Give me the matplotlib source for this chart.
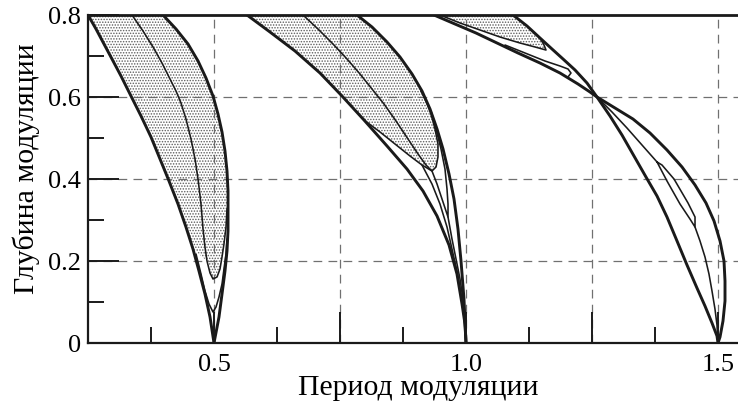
import matplotlib
matplotlib.use("Agg")
import matplotlib.pyplot as plt
import numpy as np
from matplotlib.ticker import FixedLocator, FixedFormatter

plt.rcParams['font.family'] = ['Liberation Serif', 'DejaVu Serif']
plt.rcParams['hatch.linewidth'] = 0.7

# ---------------- data (period, depth) ----------------
x_label = "Период модуляции"
y_label = "Глубина модуляции"
x_major = [0.25, 0.5, 0.75, 1.0, 1.25, 1.5]
x_major_labels = ["", "0.5", "", "1.0", "", "1.5"]
x_minor = [0.375, 0.625, 0.875, 1.125, 1.375]
y_major = [0.0, 0.2, 0.4, 0.6, 0.8]
y_major_labels = ["0", "0.2", "0.4", "0.6", "0.8"]
y_minor = [0.1, 0.3, 0.5, 0.7]

# tongue near 0.5
t1_left_x = [0.25, 0.2659, 0.2817, 0.2976, 0.3155, 0.3353, 0.3552, 0.3750, 0.3929, 0.4107,
             0.4286, 0.4444, 0.4583, 0.4702, 0.4821, 0.4921, 0.5]
t1_left_y = [0.8, 0.7659, 0.7293, 0.6927, 0.6512, 0.6024, 0.5537, 0.5024, 0.4488, 0.3951,
             0.3390, 0.2829, 0.2293, 0.1756, 0.1195, 0.0634, 0.0]
t1_right_x = [0.3988, 0.4246, 0.4484, 0.4683, 0.4841, 0.4980, 0.5079, 0.5159, 0.5218, 0.5258,
              0.5278, 0.5278, 0.5278, 0.5258, 0.5218, 0.5159, 0.5099, 0.5]
t1_right_y = [0.8, 0.7659, 0.7293, 0.6878, 0.6463, 0.6024, 0.5585, 0.5146, 0.4683, 0.4195,
              0.3707, 0.3220, 0.2732, 0.2244, 0.1756, 0.1195, 0.0634, 0.0]
t1_inner_x = [0.3373, 0.3591, 0.3790, 0.3968, 0.4127, 0.4246, 0.4345, 0.4444, 0.4544, 0.4623,
              0.4683, 0.4742, 0.4782, 0.4821, 0.4861, 0.4921, 0.4980, 0.5060, 0.5119, 0.5159,
              0.5198, 0.5238, 0.5258]
t1_inner_y = [0.8, 0.7610, 0.7220, 0.6829, 0.6439, 0.6146, 0.5854, 0.5463, 0.4976, 0.4488,
              0.4, 0.3390, 0.2780, 0.2341, 0.2, 0.1707, 0.1561, 0.1610, 0.1805, 0.2098,
              0.2415, 0.2829, 0.3268]
t1_mid_x = [0.4643, 0.4742, 0.4821, 0.4901, 0.4980, 0.5040, 0.5099, 0.5159, 0.5198, 0.5238, 0.5258]
t1_mid_y = [0.2171, 0.1683, 0.1268, 0.0951, 0.0756, 0.0878, 0.1122, 0.1439, 0.1805, 0.2171, 0.2537]

# tongue near 1.0
t2_left_x = [0.5655, 0.6111, 0.6607, 0.7103, 0.7540, 0.7976, 0.8433, 0.8829, 0.9147, 0.9425,
             0.9663, 0.9821, 0.9921, 0.9980, 1.0]
t2_left_y = [0.8, 0.7585, 0.7122, 0.6585, 0.6024, 0.5439, 0.4805, 0.4244, 0.3707, 0.3098,
             0.2390, 0.1683, 0.0951, 0.0463, 0.0]
t2_right_x = [0.7837, 0.8135, 0.8433, 0.8690, 0.8929, 0.9127, 0.9286, 0.9425, 0.9544, 0.9663,
              0.9762, 0.9841, 0.9901, 0.9960, 1.0]
t2_right_y = [0.8, 0.7707, 0.7341, 0.6976, 0.6561, 0.6146, 0.5707, 0.5220, 0.4732, 0.4122,
              0.3512, 0.2780, 0.2, 0.1073, 0.0]
t2_inner_x = [0.6766, 0.7063, 0.7361, 0.7639, 0.7897, 0.8135, 0.8373, 0.8611, 0.8849, 0.9048,
              0.9206, 0.9325, 0.9405, 0.9444, 0.9444, 0.9385, 0.9306, 0.9206, 0.9107]
t2_inner_y = [0.8, 0.7659, 0.7293, 0.6927, 0.6561, 0.6195, 0.5829, 0.5415, 0.4976, 0.4610,
              0.4341, 0.4195, 0.4293, 0.4537, 0.4854, 0.5220, 0.5585, 0.5902, 0.6146]
t2_mid_x = [0.7976, 0.8294, 0.8591, 0.8889, 0.9127, 0.9325, 0.9425, 0.9524, 0.9643, 0.9643,
            0.9623, 0.9583, 0.9504, 0.9405, 0.9306]
t2_mid_y = [0.5439, 0.5146, 0.4854, 0.4561, 0.4341, 0.4195, 0.3878, 0.3512, 0.3073, 0.3390,
            0.3756, 0.4244, 0.4732, 0.5220, 0.5659]
t2_low_a_x = [0.9643, 0.9722, 0.9802, 0.9881, 0.9940, 0.9980, 1.0]
t2_low_a_y = [0.3073, 0.2537, 0.2049, 0.1561, 0.1073, 0.0585, 0.0]
t2_low_b_x = [0.9127, 0.9325, 0.9484, 0.9623, 0.9722, 0.9821, 0.9901, 0.9960, 1.0]
t2_low_b_y = [0.4341, 0.3878, 0.3390, 0.2829, 0.2293, 0.1756, 0.1195, 0.0634, 0.0]

# tongue near 1.5 (branches cross near 1.26, 0.6)
t3_a_x = [0.9365, 0.9782, 1.0198, 1.0615, 1.1032, 1.1468, 1.1865, 1.2222, 1.2460, 1.2599,
          1.2956, 1.3313, 1.3651, 1.3988, 1.4286, 1.4544, 1.4762, 1.4921, 1.5040, 1.5119,
          1.5139, 1.5139, 1.5099, 1.5040, 1.5]
t3_a_y = [0.8, 0.7780, 0.7561, 0.7317, 0.7073, 0.6829, 0.6585, 0.6317, 0.6122, 0.6,
          0.5732, 0.5463, 0.5122, 0.4707, 0.4293, 0.3854, 0.3415, 0.2976, 0.2488, 0.2,
          0.1512, 0.1024, 0.0537, 0.0146, 0.0]
t3_b_x = [1.0933, 1.1210, 1.1468, 1.1706, 1.1925, 1.2163, 1.2401, 1.2599, 1.2857, 1.3095,
          1.3333, 1.3571, 1.3790, 1.3988, 1.4187, 1.4385, 1.4583, 1.4742, 1.4881, 1.4980, 1.5]
t3_b_y = [0.8, 0.7732, 0.7439, 0.7171, 0.6927, 0.6659, 0.6341, 0.6, 0.5537, 0.5073,
          0.4561, 0.4049, 0.3585, 0.3073, 0.2488, 0.1902, 0.1341, 0.0902, 0.0488, 0.0171, 0.0]
t3_mid_up_x = [1.2599, 1.2897, 1.3194, 1.3492, 1.3790]
t3_mid_up_y = [0.6, 0.5634, 0.5244, 0.4829, 0.4415]
t3_mid_low_x = [1.4544, 1.4643, 1.4742, 1.4821, 1.4881, 1.4940, 1.4980, 1.5]
t3_mid_low_y = [0.2829, 0.2488, 0.2098, 0.1683, 0.1268, 0.0829, 0.0439, 0.0]
t3_lens_x = [1.3790, 1.3988, 1.4246, 1.4444, 1.4544, 1.4544, 1.4405, 1.4127, 1.3889, 1.3790]
t3_lens_y = [0.4415, 0.3951, 0.3390, 0.3024, 0.2829, 0.3073, 0.3415, 0.4, 0.4341, 0.4415]
t3_lobe1_x = [0.9484, 0.9881, 1.0278, 1.0675, 1.1071, 1.1369, 1.1587, 1.1548, 1.1468]
t3_lobe1_y = [0.8, 0.7805, 0.7634, 0.7463, 0.7317, 0.7220, 0.7146, 0.7268, 0.7439]
t3_lobe2_x = [1.0774, 1.1171, 1.1567, 1.1865, 1.2024, 1.2083, 1.2024]
t3_lobe2_y = [0.7268, 0.7073, 0.6878, 0.6756, 0.6683, 0.6585, 0.6488]

# ---------------- figure ----------------
fig = plt.figure(figsize=(7.38, 4.10), dpi=100)
ax = fig.add_axes([88 / 738, 66 / 410, 650 / 738, 328 / 410])
ax.set_xlim(0.25, 0.25 + 650 / 504)
ax.set_ylim(0.0, 0.8)

ink = '#1a1a1a'
thick = 2.1
thin = 1.15
shade = dict(facecolor='none', edgecolor='#5e5e5e', hatch='......', lw=0, zorder=1)

a = np.asarray
poly1_x = np.concatenate([a(t1_left_x)[:13], a(t1_inner_x)[14:], a(t1_right_x)[11::-1]])
poly1_y = np.concatenate([a(t1_left_y)[:13], a(t1_inner_y)[14:], a(t1_right_y)[11::-1]])
ax.fill(poly1_x, poly1_y, **shade)

poly2_x = np.concatenate([a(t2_left_x)[:6], a(t2_mid_x)[1:6], a(t2_inner_x)[12:15], a(t2_right_x)[8::-1]])
poly2_y = np.concatenate([a(t2_left_y)[:6], a(t2_mid_y)[1:6], a(t2_inner_y)[12:15], a(t2_right_y)[8::-1]])
ax.fill(poly2_x, poly2_y, **shade)

poly3_x = np.concatenate([a(t3_lobe1_x), a(t3_b_x)[1::-1]])
poly3_y = np.concatenate([a(t3_lobe1_y), a(t3_b_y)[1::-1]])
ax.fill(poly3_x, poly3_y, **shade)

kw = dict(color=ink, solid_joinstyle='round', solid_capstyle='round', zorder=3)
for xs, ys, w in [
    (t1_left_x, t1_left_y, thick), (t1_right_x, t1_right_y, thick),
    (t1_inner_x, t1_inner_y, thin), (t1_mid_x, t1_mid_y, thin),
    (t2_left_x, t2_left_y, thick), (t2_right_x, t2_right_y, thick),
    (t2_inner_x, t2_inner_y, thin), (t2_mid_x, t2_mid_y, thin),
    (t2_low_a_x, t2_low_a_y, thin), (t2_low_b_x, t2_low_b_y, thin),
    (t3_a_x, t3_a_y, thick), (t3_b_x, t3_b_y, thick),
    (t3_mid_up_x, t3_mid_up_y, thin), (t3_mid_low_x, t3_mid_low_y, thin),
    (t3_lens_x, t3_lens_y, thin),
    (t3_lobe1_x, t3_lobe1_y, thin), (t3_lobe2_x, t3_lobe2_y, thin),
]:
    ax.plot(xs, ys, lw=w, **kw)

for gx in x_major[1:]:
    ax.axvline(gx, color='#707070', lw=0.9, dashes=(7, 5), zorder=0)
for gy in y_major[1:-1]:
    ax.axhline(gy, color='#707070', lw=0.9, dashes=(7, 5), zorder=0)

for s in ['left', 'bottom']:
    ax.spines[s].set_linewidth(1.6)
    ax.spines[s].set_color(ink)
ax.spines['top'].set_linewidth(2.0)
ax.spines['top'].set_color(ink)
ax.spines['right'].set_visible(False)

ax.xaxis.set_major_locator(FixedLocator(x_major))
ax.xaxis.set_major_formatter(FixedFormatter(x_major_labels))
ax.xaxis.set_minor_locator(FixedLocator(x_minor))
ax.yaxis.set_major_locator(FixedLocator(y_major))
ax.yaxis.set_major_formatter(FixedFormatter(y_major_labels))
ax.yaxis.set_minor_locator(FixedLocator(y_minor))
ax.tick_params(which='major', direction='in', length=22, width=1.4, color=ink,
               labelsize=19, top=False, right=False)
ax.tick_params(which='minor', direction='in', length=11.5, width=1.4, color=ink,
               top=False, right=False)
ax.tick_params(axis='x', which='major', pad=7)
ax.tick_params(axis='y', which='major', pad=5)

ax.set_xlabel(x_label, fontsize=21.5)
ax.set_ylabel(y_label, fontsize=21.5)
ax.xaxis.set_label_coords(0.508, -0.095)
ax.yaxis.set_label_coords(-0.074, 0.535)

fig.savefig("out.png", dpi=100)
